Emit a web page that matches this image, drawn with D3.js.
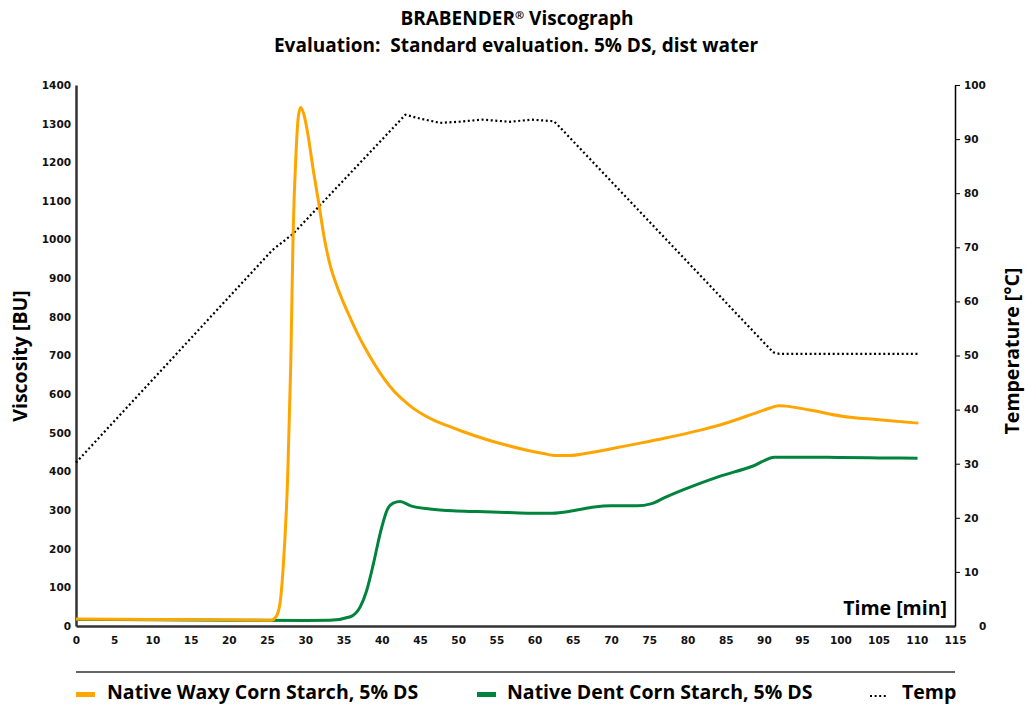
<!DOCTYPE html>
<html>
<head>
<meta charset="utf-8">
<script src="https://cdn.jsdelivr.net/npm/d3@7"></script>
<style>
  html, body { margin: 0; padding: 0; background: #fff; }
  svg { display: block; }
  .big { font-family: "Open Sans", "Noto Sans", sans-serif; font-weight: bold; fill: #000; }
</style>
</head>
<body>
<svg id="chart" width="1025" height="704"></svg>
<script>
// ---------- data ----------
const xTicks = d3.range(0, 116, 5);
const leftTicks = d3.range(0, 1401, 100);
const rightTicks = d3.range(0, 101, 10);

const waxyTime = [0, 10, 20, 25.5, 26.2, 26.7, 27.1, 27.7, 28.1, 28.4, 28.8, 29.1, 29.4, 29.8, 30.4, 31.0, 31.7, 32.5, 33.3, 34.0, 34.8, 35.7, 36.7, 37.8, 39.1, 40.3, 41.5, 42.8, 44.0, 45.5, 47.0, 48.5, 50.5, 53.8, 56.5, 59.0, 61.0, 62.9, 64.5, 68, 72.4, 77, 81.7, 85.5, 88.6, 90.8, 91.9, 92.8, 96, 100.2, 105, 110.2];
const waxyBU   = [18, 17, 16, 15, 25, 60, 150, 390, 680, 1010, 1230, 1320, 1342, 1325, 1265, 1185, 1102, 1002, 930, 887, 846, 805, 762, 720, 676, 640, 610, 585, 565, 546, 531, 519, 504, 482, 467, 455, 447, 441, 441, 451, 468, 486, 507, 528, 549, 564, 570, 569, 559, 543, 534, 525];

const dentTime = [0, 10, 20, 30, 33.2, 35.9, 37.2, 38.0, 38.9, 39.8, 40.7, 41.5, 42.4, 43.8, 46.3, 49.3, 52.5, 56.2, 59.5, 62.3, 65, 67.8, 70, 73.4, 75.2, 77, 79.4, 84, 88.6, 91.4, 95, 100, 105, 110.1];
const dentBU   = [17, 16, 15, 14.5, 15, 24, 50, 90, 160, 240, 300, 318, 322, 311, 303, 298, 296, 294, 292, 292, 298, 308, 311, 311, 316, 332, 352, 386, 414, 437, 437, 436, 435, 434];

const tempTime = [0, 25.7, 28.4, 43.1, 45, 47.6, 50, 53.1, 56.8, 59.6, 62.5, 62.9, 91.2, 92, 110.2];
const tempC    = [30.2, 69.5, 72.5, 94.5, 93.8, 93.0, 93.2, 93.6, 93.2, 93.6, 93.3, 92.8, 50.6, 50.3, 50.3];

const legendLabels = ["Native Waxy Corn Starch, 5% DS", "Native Dent Corn Starch, 5% DS", "Temp"];
const colors = { waxy: "#FFA500", dent: "#00843D", temp: "#000" };

// ---------- scales ----------
const svg = d3.select("#chart");
const x = d3.scaleLinear().domain([0, 115]).range([76, 955]);
const yL = d3.scaleLinear().domain([0, 1400]).range([626, 85]);
const yR = d3.scaleLinear().domain([0, 100]).range([626, 85]);

// ---------- titles ----------
const t1 = svg.append("text").attr("class", "big").attr("x", 517).attr("y", 25)
  .attr("text-anchor", "middle").style("font-size", "19px");
t1.append("tspan").text("BRABENDER");
t1.append("tspan").attr("dy", -6).style("font-size", "11px").text("®");
t1.append("tspan").attr("dy", 6).text(" Viscograph");
svg.append("text").attr("class", "big").attr("x", 516).attr("y", 52)
  .attr("text-anchor", "middle").style("font-size", "19px").style("white-space", "pre")
  .text("Evaluation:  Standard evaluation. 5% DS, dist water");

// ---------- axes ----------
function styleTicks(g) {
  g.selectAll(".tick text")
    .style("font-family", '"DejaVu Sans", Verdana, sans-serif')
    .style("font-weight", "bold").style("font-size", "10.5px").attr("fill", "#111");
}
const fmt = d3.format("d");

const gL = svg.append("g").attr("transform", "translate(76,0)")
  .call(d3.axisLeft(yL).tickValues(leftTicks).tickFormat(fmt).tickSize(0).tickPadding(5).tickSizeOuter(0));
gL.select(".domain").attr("stroke", "#333").attr("stroke-width", 2.5);
styleTicks(gL);

const gB = svg.append("g").attr("transform", "translate(0,626)")
  .call(d3.axisBottom(x).tickValues(xTicks).tickFormat(fmt).tickSize(0).tickPadding(11).tickSizeOuter(0));
gB.select(".domain").attr("stroke", "#333").attr("stroke-width", 2.5);
styleTicks(gB);

const gR = svg.append("g").attr("transform", "translate(955,0)")
  .call(d3.axisRight(yR).tickValues(rightTicks).tickFormat(fmt).tickSize(5).tickPadding(4).tickSizeOuter(0));
gR.select(".domain").attr("stroke", "#000").attr("stroke-width", 1.5);
gR.selectAll(".tick line").attr("stroke", "#000").attr("stroke-width", 1);
gR.selectAll(".tick").filter(d => d === 0).select("line").remove();
gR.selectAll(".tick").filter(d => d === 0).select("text").attr("x", 24);
styleTicks(gR);

// axis titles
svg.append("text").attr("class", "big").style("font-size", "19.5px")
  .attr("transform", "translate(27,356) rotate(-90)").attr("text-anchor", "middle")
  .text("Viscosity [BU]");
svg.append("text").attr("class", "big").style("font-size", "19.5px")
  .attr("transform", "translate(1019,351) rotate(-90)").attr("text-anchor", "middle")
  .text("Temperature [°C]");
svg.append("text").attr("class", "big").style("font-size", "19.5px")
  .attr("x", 947).attr("y", 615).attr("text-anchor", "end")
  .text("Time [min]");

// ---------- lines ----------
const lineL = d3.line().x(d => x(d[0])).y(d => yL(d[1])).curve(d3.curveMonotoneX);
const lineT = d3.line().x(d => x(d[0])).y(d => yR(d[1])).curve(d3.curveLinear);

svg.append("path").datum(tempTime.map((t, i) => [t, tempC[i]]))
  .attr("d", lineT).attr("fill", "none").attr("stroke", colors.temp)
  .attr("stroke-width", 2.2).attr("stroke-dasharray", "2,2.6");

svg.append("path").datum(dentTime.map((t, i) => [t, dentBU[i]]))
  .attr("d", lineL).attr("fill", "none").attr("stroke", colors.dent)
  .attr("stroke-width", 3).attr("stroke-linejoin", "round");

svg.append("path").datum(waxyTime.map((t, i) => [t, waxyBU[i]]))
  .attr("d", lineL).attr("fill", "none").attr("stroke", colors.waxy)
  .attr("stroke-width", 3).attr("stroke-linejoin", "round");

// ---------- legend ----------
svg.append("line").attr("x1", 76).attr("x2", 955).attr("y1", 672).attr("y2", 672)
  .attr("stroke", "#333").attr("stroke-width", 1.5);

const lg = svg.append("g");
lg.append("rect").attr("x", 76).attr("y", 692).attr("width", 19).attr("height", 5).attr("fill", colors.waxy);
lg.append("text").attr("class", "big").style("font-size", "19.5px").attr("x", 107).attr("y", 699).text(legendLabels[0]);
lg.append("rect").attr("x", 477).attr("y", 692).attr("width", 19).attr("height", 5).attr("fill", colors.dent);
lg.append("text").attr("class", "big").style("font-size", "19.5px").attr("x", 507).attr("y", 699).text(legendLabels[1]);
lg.append("line").attr("x1", 870).attr("x2", 887).attr("y1", 696).attr("y2", 696)
  .attr("stroke", colors.temp).attr("stroke-width", 2).attr("stroke-dasharray", "2,2.6");
lg.append("text").attr("class", "big").style("font-size", "19.5px").attr("x", 902).attr("y", 699).text(legendLabels[2]);
</script>
</body>
</html>
